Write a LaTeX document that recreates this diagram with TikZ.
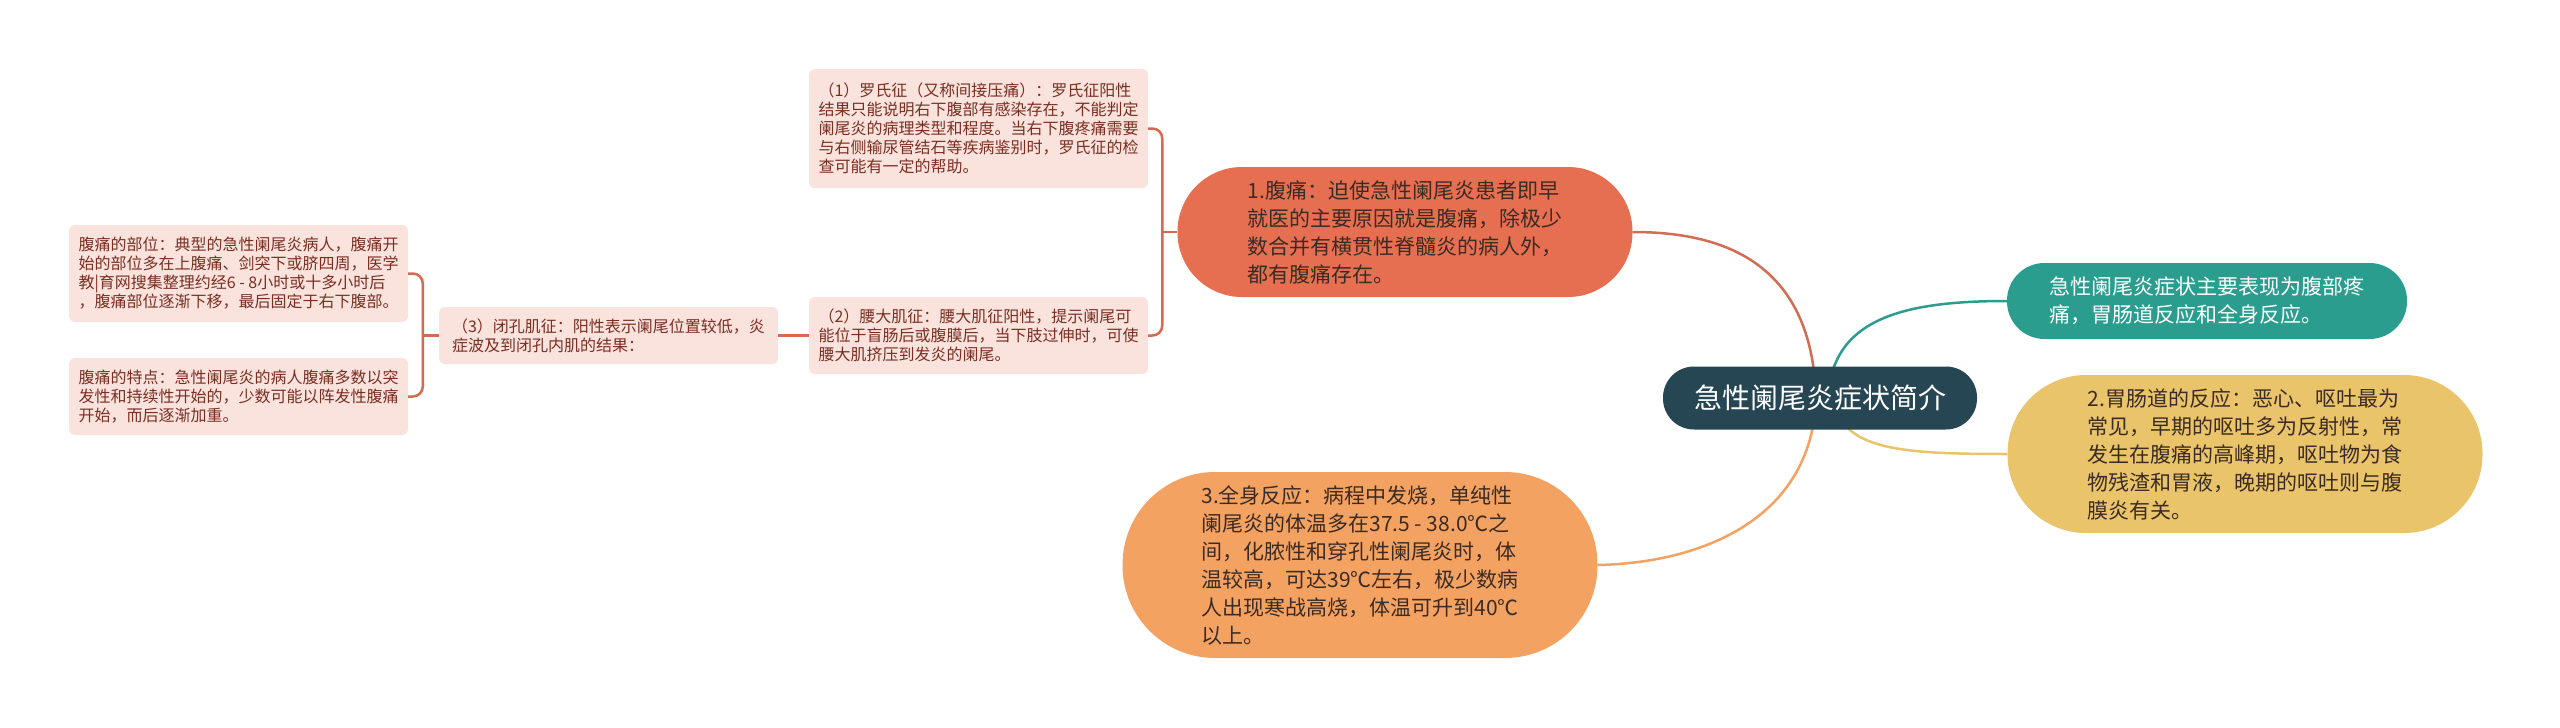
\documentclass[tikz,border=0pt]{standalone}
\usepackage{fontspec}
\setmainfont{Noto Sans CJK SC}
\usetikzlibrary{backgrounds}
\definecolor{cDark}{HTML}{264653}
\definecolor{cTeal}{HTML}{2A9D8F}
\definecolor{cYel}{HTML}{E9C46A}
\definecolor{cRed}{HTML}{E76F51}
\definecolor{cOra}{HTML}{F4A261}
\definecolor{cPink}{HTML}{FAE3DD}
\definecolor{cPinkTxt}{HTML}{7A2E22}
\definecolor{cLine}{HTML}{D7694F}
\definecolor{cTxt}{HTML}{3B2B24}
\tikzset{
  central/.style={fill=cDark, text=white, rounded corners=31, minimum width=314, minimum height=63, inner sep=0, font=\fontsize{28}{34}\selectfont},
  bignode/.style={inner sep=0, align=left, font=\fontsize{21}{28}\selectfont},
  pinkbox/.style={fill=cPink, text=cPinkTxt, rounded corners=6, minimum width=339, inner sep=0, align=left, font=\fontsize{16}{19}\selectfont},
  conn/.style={line width=2.5pt},
}
\begin{document}
\begin{tikzpicture}[x=1pt,y=-1pt]
\useasboundingbox (0,0) rectangle (2560,728);

\node[central] (c) at (1820,398) {急性阑尾炎症状简介};
\node[bignode, fill=cTeal, text=white, rounded corners=37.5, minimum width=400, minimum height=76] (t) at (2207,301) {急性阑尾炎症状主要表现为腹部疼\\痛，胃肠道反应和全身反应。};
\node[bignode, fill=cYel, text=cTxt, rounded corners=78.5, minimum width=475, minimum height=158] (gi) at (2245,454) {2.胃肠道的反应：恶心、呕吐最为\\常见，早期的呕吐多为反射性，常\\发生在腹痛的高峰期，呕吐物为食\\物残渣和胃液，晚期的呕吐则与腹\\膜炎有关。};
\node[bignode, fill=cRed, text=cTxt, rounded corners=64.5, minimum width=455, minimum height=130] (n1) at (1405,232) {1.腹痛：迫使急性阑尾炎患者即早\\就医的主要原因就是腹痛，除极少\\数合并有横贯性脊髓炎的病人外，\\都有腹痛存在。};
\node[bignode, fill=cOra, text=cTxt, rounded corners=92.5, minimum width=475, minimum height=186] (n3) at (1360,565) {3.全身反应：病程中发烧，单纯性\\阑尾炎的体温多在37.5 - 38.0℃之\\间，化脓性和穿孔性阑尾炎时，体\\温较高，可达39℃左右，极少数病\\人出现寒战高烧，体温可升到40℃\\以上。};

\node[pinkbox, minimum height=119] (b1) at (978.5,128.5) {（1）罗氏征（又称间接压痛）：罗氏征阳性\\结果只能说明右下腹部有感染存在，不能判定\\阑尾炎的病理类型和程度。当右下腹疼痛需要\\与右侧输尿管结石等疾病鉴别时，罗氏征的检\\查可能有一定的帮助。};
\node[pinkbox, minimum height=77] (b2) at (978.5,335.5) {（2）腰大肌征：腰大肌征阳性，提示阑尾可\\能位于盲肠后或腹膜后，当下肢过伸时，可使\\腰大肌挤压到发炎的阑尾。};
\node[pinkbox, minimum height=57] (b3) at (608.5,335.5) {（3）闭孔肌征：阳性表示阑尾位置较低，炎\\症波及到闭孔内肌的结果：};
\node[pinkbox, minimum height=97] (b4) at (238.5,273.5) {腹痛的部位：典型的急性阑尾炎病人，腹痛开\\始的部位多在上腹痛、剑突下或脐四周，医学\\教|育网搜集整理约经6 - 8小时或十多小时后\\，腹痛部位逐渐下移，最后固定于右下腹部。};
\node[pinkbox, minimum height=77] (b5) at (238.5,396.5) {腹痛的特点：急性阑尾炎的病人腹痛多数以突\\发性和持续性开始的，少数可能以阵发性腹痛\\开始，而后逐渐加重。};

\begin{scope}[on background layer]
  \fill[white] (0,0) rectangle (2560,728);
  \draw[conn, cRed!90!black!95] ([xshift=-4]c.center) .. controls (1812,260) and (1720,232) .. (n1.east);
  \draw[conn, cOra] ([xshift=-4]c.center) .. controls (1812,520) and (1700,563) .. (n3.east);
  \draw[conn, cTeal] ([xshift=8]c.center) .. controls (1832,320) and (1900,301) .. (t.west);
  \draw[conn, cYel] ([xshift=14]c.center) .. controls (1840,450) and (1900,454) .. (gi.west);
\end{scope}

\draw[conn, cLine, rounded corners=10] (b1.east) -| ([xshift=-15]n1.west) |- (b2.east);
\draw[conn, cLine] (n1.west) -- ([xshift=-15]n1.west);
\draw[conn, cLine] (b3.east) -- (b2.west);
\draw[conn, cLine, rounded corners=10] (b4.east) -| ([xshift=-16]b3.west) |- (b5.east);
\draw[conn, cLine] (b3.west) -- ([xshift=-16]b3.west);
\end{tikzpicture}
\end{document}
